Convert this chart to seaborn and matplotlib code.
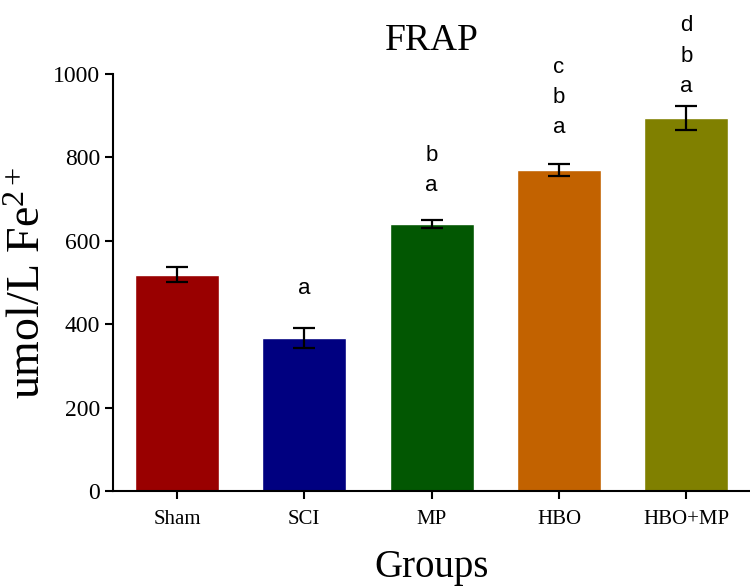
import numpy as np
import pandas as pd
import seaborn as sns
import matplotlib.pyplot as plt

groups = ['Sham', 'SCI', 'MP', 'HBO', 'HBO+MP']
frap = [519, 366, 641, 770, 895]
sem = [17, 24, 10, 15, 29]
letters = [[], ['a'], ['a', 'b'], ['a', 'b', 'c'], ['a', 'b', 'd']]
letter_base = [0, 486, 732, 871, 971]
bar_colors = ['#990000', '#000080', '#025702', '#C26200', '#808000']

sns.set_style('ticks')
plt.rcParams['font.family'] = ['Liberation Serif', 'DejaVu Serif']
plt.rcParams['mathtext.fontset'] = 'custom'
plt.rcParams['mathtext.rm'] = 'Liberation Serif'
plt.rcParams['mathtext.it'] = 'Liberation Serif'
plt.rcParams['text.color'] = 'black'
plt.rcParams['axes.labelcolor'] = 'black'
plt.rcParams['xtick.color'] = 'black'
plt.rcParams['ytick.color'] = 'black'
plt.rcParams['axes.edgecolor'] = 'black'

df = pd.DataFrame({'group': groups, 'frap': frap})

fig = plt.figure(figsize=(7.5, 5.87), dpi=100)
ax = fig.add_axes([0.151, 0.1635, 0.849, 0.7105])

sns.barplot(data=df, x='group', y='frap', hue='group', palette=bar_colors,
            legend=False, width=0.66, saturation=1, ax=ax)
ax.errorbar(np.arange(len(groups)), frap, yerr=sem, fmt='none',
            ecolor='black', elinewidth=1.6, capsize=8, capthick=1.6)

# significance letters stacked above bars
step = 72
for i, labs in enumerate(letters):
    for k, t in enumerate(labs):
        ax.text(i, letter_base[i] + k * step, t, ha='center', va='center',
                fontsize=16, family='Liberation Sans', color='black')

ax.set_xlim(-0.5, 4.5)
ax.set_ylim(0, 1000)
ax.set_yticks([0, 200, 400, 600, 800, 1000])
sns.despine(ax=ax)
for s in ['left', 'bottom']:
    ax.spines[s].set_linewidth(1.5)
ax.tick_params(axis='both', direction='out', length=6, width=1.5, color='black')
ax.tick_params(axis='y', labelsize=17)
ax.tick_params(axis='x', labelsize=15, pad=8)

ax.set_title('FRAP', fontsize=27, pad=17)
ax.set_xlabel('Groups', fontsize=28, labelpad=14)
ax.set_ylabel('umol/L Fe$^{2+}$', fontsize=33, labelpad=2)

fig.savefig('out.png', dpi=100)
